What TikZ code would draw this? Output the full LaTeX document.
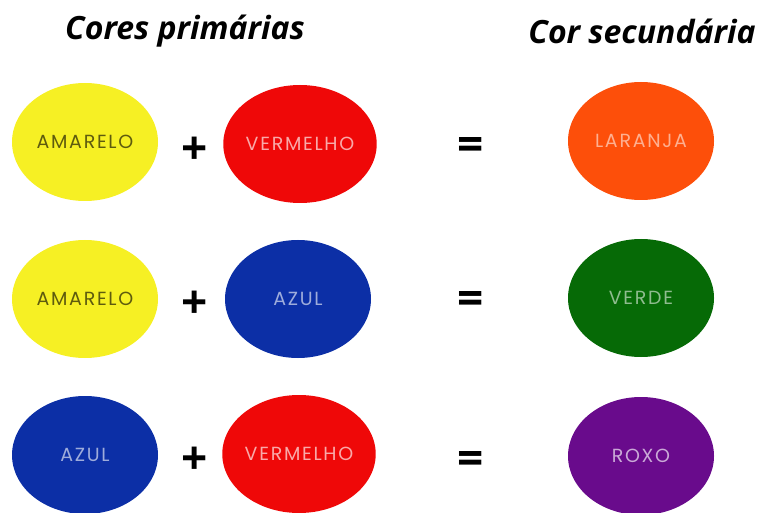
\documentclass[tikz,border=0pt]{standalone}
\usepackage{fontspec}
\setmainfont{Open Sans}
\newfontfamily\labelfont{Poppins}[LetterSpace=9]
\usepackage{tikz}
\usetikzlibrary{shapes.geometric}

\definecolor{cyellow}{HTML}{F6F024}
\definecolor{cred}{HTML}{EF0808}
\definecolor{cblue}{HTML}{0C2FA6}
\definecolor{corange}{HTML}{FD4F0A}
\definecolor{cgreen}{HTML}{066A06}
\definecolor{cpurple}{HTML}{690B8C}

\begin{document}
\begin{tikzpicture}[x=1pt,y=-1pt,
  blob/.style={ellipse,minimum width=146pt,minimum height=118pt,inner sep=0pt,font=\labelfont\fontsize{19}{19}\selectfont},
  sign/.style={font=\bfseries\fontsize{46}{46}\selectfont},
  title/.style={font=\bfseries\itshape\fontsize{32}{32}\selectfont}]
\useasboundingbox (0,0) rectangle (763,513);

\node[title] (T1) at (185,31) {Cores primárias};
\node[title] (T2) at (642,31) {Cor secundária};

\node[blob,fill=cyellow,text=black!62!cyellow] (A1) at (85,142) {AMARELO};
\node[sign] (P1) at (195,151) {+};
\node[blob,fill=cred,text=cred!35!white] (B1) at (300,144) {VERMELHO};
\node[sign] (E1) at (471,149) {=};
\node[blob,fill=corange,text=corange!45!white] (C1) at (641,141) {LARANJA};

\node[blob,fill=cyellow,text=black!62!cyellow] (A2) at (85,299) {AMARELO};
\node[sign] (P2) at (195,305) {+};
\node[blob,fill=cblue,text=cblue!40!white] (B2) at (298,299) {AZUL};
\node[sign] (E2) at (471,303) {=};
\node[blob,fill=cgreen,text=cgreen!45!white] (C2) at (641,298) {VERDE};

\node[blob,fill=cblue,text=cblue!40!white] (A3) at (85,455) {AZUL};
\node[sign] (P3) at (195,461) {+};
\node[blob,fill=cred,text=cred!35!white] (B3) at (299,454) {VERMELHO};
\node[sign] (E3) at (471,463) {=};
\node[blob,fill=cpurple,text=cpurple!35!white] (C3) at (641,456) {ROXO};
\end{tikzpicture}
\end{document}
